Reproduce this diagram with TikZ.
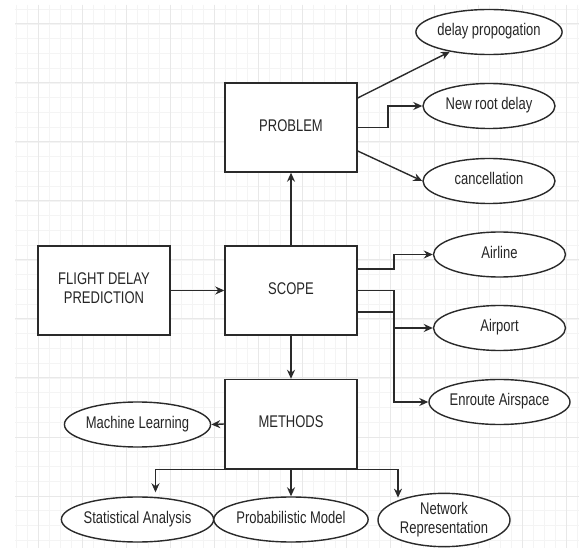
\documentclass[tikz,border=0pt]{standalone}
\usepackage{fontspec}
\setmainfont{Liberation Sans}
\usetikzlibrary{shapes.geometric,arrows.meta}
\definecolor{linecol}{HTML}{2A2A2A}
\definecolor{txtcol}{HTML}{262626}
\definecolor{gridmaj}{HTML}{E8E8E8}
\definecolor{gridmin}{HTML}{F4F4F4}
\newcommand\stretchtext[1]{\scalebox{1}[1.3]{\begin{tabular}{@{}c@{}}#1\end{tabular}}}
\tikzset{
  boxnode/.style={draw=linecol, line width=1.4pt, fill=white, minimum width=132pt, minimum height=89pt, inner sep=0pt, text=txtcol, font=\fontsize{13}{14.5}\selectfont},
  ovalnode/.style={ellipse, draw=linecol, line width=1.4pt, fill=white, minimum width=132pt, minimum height=45pt, inner sep=0pt, text=txtcol, font=\fontsize{13}{14.5}\selectfont},
  arr/.style={draw=linecol, line width=1.4pt, -{Stealth[length=9pt,width=8pt]}},
  minline/.style={draw=gridmin, line width=0.8pt},
  majline/.style={draw=gridmaj, line width=1pt}
}
\begin{document}
\begin{tikzpicture}[x=1pt,y=-1pt]
\useasboundingbox (0,0) rectangle (579,548);
\fill[white] (0,0) rectangle (579,548);
% grid
\foreach \x in {16,27,...,579} \draw[minline] (\x,5) -- (\x,548);
\foreach \y in {9.25,24,...,548} \draw[minline] (15,\y) -- (579,\y);
\foreach \x in {38,82,...,579} \draw[majline] (\x,5) -- (\x,548);
\foreach \y in {24,83,...,548} \draw[majline] (15,\y) -- (579,\y);
% boxes
\node[boxnode] (problem) at (291,127.5) {\stretchtext{PROBLEM}};
\node[boxnode] (scope) at (291,290.5) {\stretchtext{SCOPE}};
\node[boxnode] (fdp) at (104,290.5) {\stretchtext{FLIGHT DELAY\\PREDICTION}};
\node[boxnode] (methods) at (291,424) {\stretchtext{METHODS}};
% ellipses
\node[ovalnode] (dp) at (489,32) {\stretchtext{delay propogation}};
\node[ovalnode] (nrd) at (489,106) {\stretchtext{New root delay}};
\node[ovalnode] (can) at (489,181) {\stretchtext{cancellation}};
\node[ovalnode] (airline) at (499.5,254.5) {\stretchtext{Airline}};
\node[ovalnode] (airport) at (499.5,328) {\stretchtext{Airport}};
\node[ovalnode] (enroute) at (499.5,402) {\stretchtext{Enroute Airspace}};
\node[ovalnode] (ml) at (137.5,424.5) {\stretchtext{Machine Learning}};
\node[ovalnode] (sa) at (137.5,519.5) {\stretchtext{Statistical Analysis}};
\node[ovalnode] (pm) at (291,519.5) {\stretchtext{Probabilistic Model}};
\node[ovalnode] (nr) at (444,520) {\stretchtext{Network\\Representation}};
% helper coordinates
\coordinate (busx) at (394,0);
\coordinate (nrx) at (388,0);
\coordinate (p1) at ([yshift=29.5pt]problem.east);
\coordinate (p3) at ([yshift=-23.5pt]problem.east);
\coordinate (s1) at ([yshift=21.5pt]scope.east);
\coordinate (s3) at ([yshift=-21.5pt]scope.east);
\coordinate (saend) at ([shift={(18pt,4pt)}]sa.north);
\coordinate (nrend) at ([shift={(-46pt,-5pt)}]nr.north);
% connectors
\draw[arr] (scope.north) -- (problem.south);
\draw[arr] (fdp.east) -- (scope.west);
\draw[arr] (scope.south) -- (methods.north);
\draw[arr] (p1) -- (dp);
\draw[arr] (problem.east) -- (problem.east -| nrx) |- (nrd.west);
\draw[arr] (p3) -- (can.west);
\draw[arr] (s1) -- (s1 -| busx) |- (airline.west);
\draw[arr] (scope.east) -- (scope.east -| busx) |- (enroute.west);
\draw[arr] (s3) -- (s3 -| busx) |- (airport.west);
\draw[arr] (methods.west) -- (ml.east);
\draw[arr] (methods.south) -| (saend);
\draw[arr] (methods.south) -- (pm.north);
\draw[arr] (methods.south) -| (nrend);
\end{tikzpicture}
\end{document}
